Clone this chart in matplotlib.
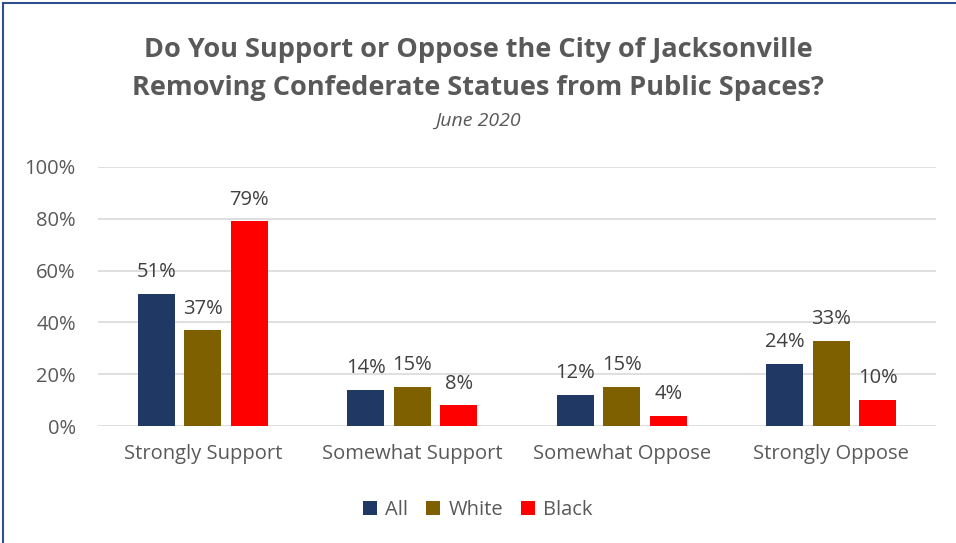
import matplotlib.pyplot as plt
import numpy as np
from matplotlib.patches import Rectangle

categories = ['Strongly Support', 'Somewhat Support', 'Somewhat Oppose', 'Strongly Oppose']
all_vals = [51, 14, 12, 24]
white_vals = [37, 15, 15, 33]
black_vals = [79, 8, 4, 10]
series = [('All', all_vals, '#203864'), ('White', white_vals, '#7F6000'), ('Black', black_vals, '#FF0000')]

plt.rcParams['font.family'] = ['Open Sans', 'DejaVu Sans']
txt = '#595959'

fig = plt.figure(figsize=(9.56, 5.43), dpi=100)
ax = fig.add_axes([98 / 956, 1 - 426 / 543, 838 / 956, (426 - 167) / 543])

x = np.arange(len(categories))
w = 0.176
step = 0.222
for i, (name, vals, col) in enumerate(series):
    pos = x + (i - 1) * step
    ax.bar(pos, vals, w, color=col, label=name, zorder=3)
    for xp, v in zip(pos, vals):
        ax.text(xp, v + 4.5, f'{v}%', ha='center', va='bottom', fontsize=14.5, color='#404040')

ax.set_xlim(-0.5, 3.5)
ax.set_ylim(0, 100)
ax.set_yticks(range(0, 101, 20))
ax.set_yticklabels([f'{t}%' for t in range(0, 101, 20)])
ax.set_xticks(x)
ax.set_xticklabels(categories)
ax.tick_params(axis='both', length=0, labelsize=14.5, labelcolor=txt)
ax.tick_params(axis='x', pad=13)
ax.tick_params(axis='y', pad=16)
ax.grid(axis='y', color='#D9D9D9', linewidth=1.2, zorder=0)
for s in ax.spines.values():
    s.set_visible(False)

fig.text(0.5, 1 - 50 / 543, 'Do You Support or Oppose the City of Jacksonville', ha='center', va='center',
         fontsize=19.5, fontweight='bold', color=txt)
fig.text(0.5, 1 - 88 / 543, 'Removing Confederate Statues from Public Spaces?', ha='center', va='center',
         fontsize=19.5, fontweight='bold', color=txt)
fig.text(0.5, 1 - 121 / 543, 'June 2020', ha='center', va='center', fontsize=14, style='italic', color=txt)

handles, labels = ax.get_legend_handles_labels()
fig.legend(handles, labels, loc='center', bbox_to_anchor=(0.5, 1 - 510 / 543), ncol=3, frameon=False,
           fontsize=14.5, labelcolor=txt, handlelength=0.7, handleheight=0.7, handletextpad=0.4, columnspacing=0.9)

fig.patches.append(Rectangle((3 / 956, -0.05), 1.2, 1 - 3 / 543 + 0.05, transform=fig.transFigure,
                             fill=False, edgecolor='#2F4F8F', linewidth=1.5))

fig.savefig('out.png', dpi=100)
